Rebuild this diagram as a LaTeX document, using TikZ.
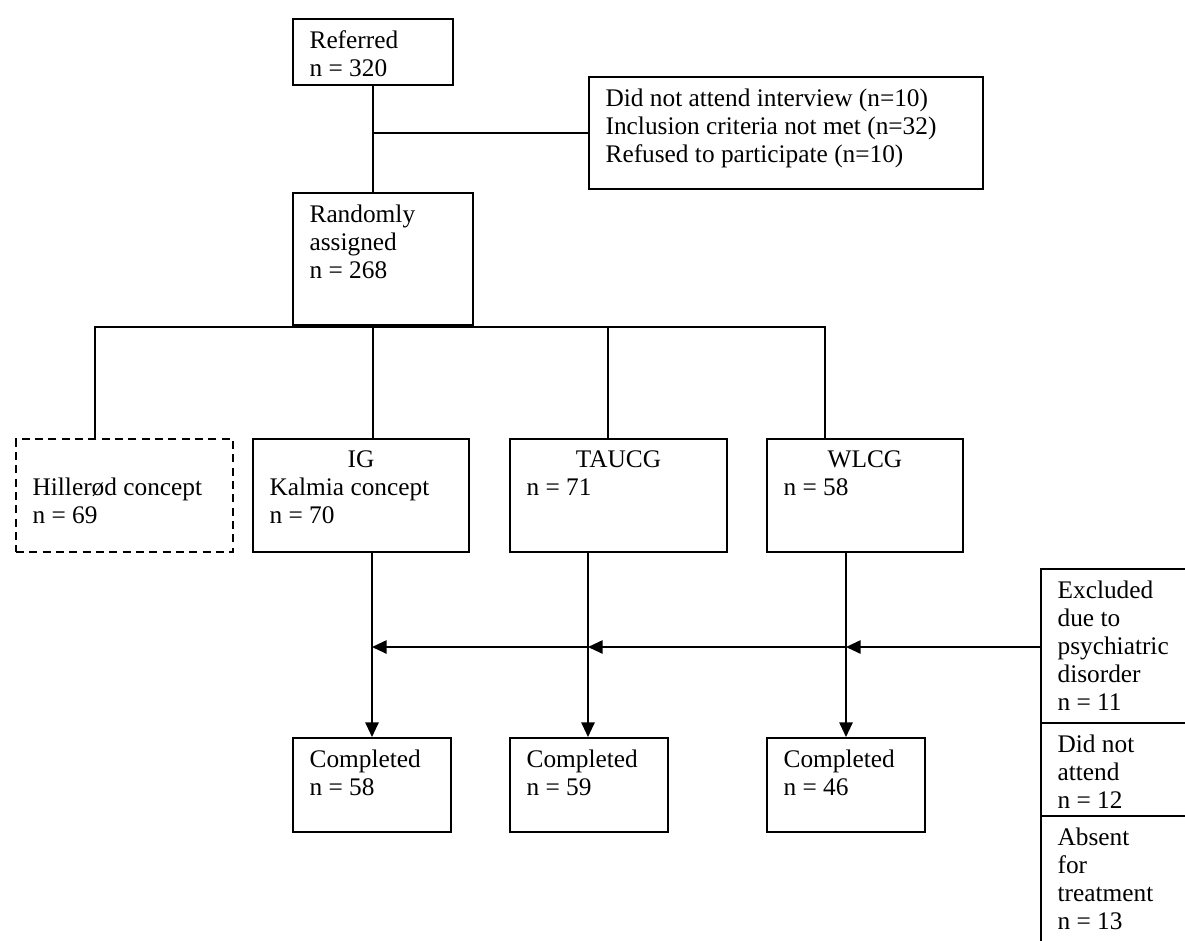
\documentclass[tikz,border=0pt]{standalone}
\usepackage{fontspec}
\setmainfont{Liberation Serif}
\usetikzlibrary{arrows.meta}

\tikzset{
  box/.style={draw, line width=1.4pt, anchor=north west, inner sep=0pt},
  txt/.style={label={[anchor=north west, align=left, inner xsep=13pt, inner ysep=9.5pt]north west:#1}},
  head/.style={label={[anchor=north, inner ysep=9.5pt]north:#1}},
  conn/.style={line width=1.4pt},
  arr/.style={conn, -{Triangle[length=11pt, width=10pt]}},
}

\begin{document}
\begin{tikzpicture}[x=0.75pt, y=-0.75pt, font=\fontsize{19}{21}\selectfont]
\useasboundingbox (0,0) rectangle (1185,940);
\clip (0,0) rectangle (1185,940);

% referral and screening
\node[box, minimum width=120pt, minimum height=49.5pt, txt={Referred\\n = 320}] (ref) at (292,18) {};
\node[box, minimum width=295.5pt, minimum height=84pt,
  txt={Did not attend interview (n=10)\\Inclusion criteria not met (n=32)\\Refused to participate (n=10)}] (excl) at (588,76) {};
\node[box, minimum width=135pt, minimum height=99pt, txt={Randomly\\assigned\\n = 268}] (rand) at (292,192) {};

% groups
\node[box, dash pattern=on 6pt off 4pt, minimum width=162.75pt, minimum height=84.75pt,
  txt={\vphantom{H}\\Hillerød concept\\n = 69}] (hill) at (15,438) {};
\node[box, minimum width=162pt, minimum height=84.75pt, head=IG,
  txt={\vphantom{I}\\Kalmia concept\\n = 70}] (ig) at (252,438) {};
\node[box, minimum width=162.75pt, minimum height=84.75pt, head=TAUCG,
  txt={\vphantom{T}\\n = 71}] (tau) at (509,438) {};
\node[box, minimum width=147pt, minimum height=84.75pt, head=WLCG,
  txt={\vphantom{W}\\n = 58}] (wl) at (766,438) {};

% completed
\node[box, minimum width=118.5pt, minimum height=70.5pt, txt={Completed\\n = 58}] (comp1) at (292,737) {};
\node[box, minimum width=118.5pt, minimum height=70.5pt, txt={Completed\\n = 59}] (comp2) at (509,737) {};
\node[box, minimum width=118.5pt, minimum height=70.5pt, txt={Completed\\n = 46}] (comp3) at (766,737) {};

% drop outs
\node[box, minimum width=120pt, minimum height=115.5pt,
  txt={Excluded\\due to\\psychiatric\\disorder\\n = 11}] (drop1) at (1040,568) {};
\node[box, minimum width=120pt, minimum height=69.75pt,
  txt={Did not\\attend\\n = 12}] (drop2) at (1040,722) {};
\node[box, minimum width=120pt, minimum height=112.5pt,
  txt={Absent\\for\\treatment\\n = 13}] (drop3) at (1040,815) {};

% connections at the top
\draw[conn] (ref.south) -- (ref.south |- rand.north);
\draw[conn] (excl.west) -- (excl.west -| ref.south);

\coordinate (busL) at (95,327);
\coordinate (busT) at (608,327);
\coordinate (busR) at (825,327);
\draw[conn] (ref.south |- rand.south) -- (ref.south |- ig.north);
\draw[conn] (busL |- hill.north) -- (busL) -- (busR) -- (busR |- wl.north);
\draw[conn] (busT) -- (busT |- tau.north);

% arrows down
\coordinate (a1) at (372,647);
\coordinate (a2) at (588,647);
\coordinate (a3) at (846,647);
\draw[arr] (a1 |- ig.south) -- (a1 |- comp1.north);
\draw[arr] (a2 |- tau.south) -- (a2 |- comp2.north);
\draw[arr] (a3 |- wl.south) -- (a3 |- comp3.north);

% drop out line
\draw[arr] (drop1.west |- a3) -- (a3);
\draw[arr] (a3) -- (a2);
\draw[arr] (a2) -- (a1);

\end{tikzpicture}
\end{document}
